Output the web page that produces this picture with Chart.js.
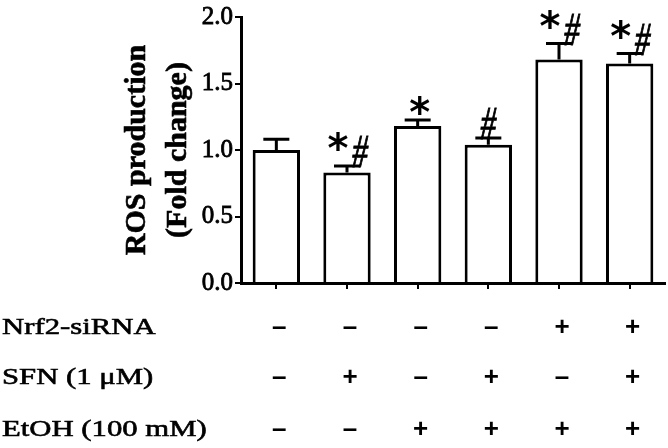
<!DOCTYPE html>
<html>
<head>
<meta charset="utf-8">
<script src="https://cdn.jsdelivr.net/npm/chart.js@4"></script>
<style>
  html, body { margin: 0; padding: 0; background: #fff; }
  #wrap { width: 668px; height: 448px; position: relative; }
</style>
</head>
<body>
<div id="wrap"><canvas id="rosChart"></canvas></div>
<script>
  // data
  const groups    = ['G1', 'G2', 'G3', 'G4', 'G5', 'G6'];
  const rosMean   = [1.00, 0.83, 1.18, 1.04, 1.68, 1.65];
  const rosSem    = [0.08, 0.05, 0.045, 0.05, 0.12, 0.075];
  const sigMarks  = ['', '*#', '*', '#', '*#', '*#'];
  const yTicks    = [0, 0.5, 1.0, 1.5, 2.0];
  const rowLabels = ['Nrf2-siRNA', 'SFN (1 \u03BCM)', 'EtOH (100 mM)'];
  const nrf2      = [false, false, false, false, true, true];
  const sfn       = [false, true, false, true, false, true];
  const etoh      = [false, false, true, true, true, true];

  const serif = "'Liberation Serif', 'Times New Roman', serif";
  const sans  = "'Liberation Sans', Arial, sans-serif";

  function drawStar(ctx, cx, base) {
    ctx.font = "bold 40px 'DejaVu Sans', sans-serif";
    ctx.textAlign = 'center';
    ctx.fillText('*', cx, base);
  }

  function drawHash(ctx, cx, base) {
    ctx.save();
    ctx.translate(cx, base);
    ctx.scale(0.68, 1);
    ctx.font = 'italic 46px ' + serif;
    ctx.textAlign = 'center';
    ctx.lineWidth = 1;
    ctx.fillText('#', 0, 0);
    ctx.strokeText('#', 0, 0);
    ctx.restore();
  }

  const errorBars = {
    id: 'errorBars',
    afterDatasetsDraw(chart) {
      const ctx = chart.ctx;
      const y = chart.scales.y;
      const meta = chart.getDatasetMeta(0);
      ctx.save();
      ctx.strokeStyle = '#000';
      ctx.fillStyle = '#000';
      ctx.textBaseline = 'alphabetic';
      meta.data.forEach((bar, i) => {
        const top = y.getPixelForValue(rosMean[i] + rosSem[i]);
        ctx.lineWidth = 3;
        ctx.beginPath();
        ctx.moveTo(bar.x, bar.y);
        ctx.lineTo(bar.x, top);
        ctx.moveTo(bar.x - 13, top);
        ctx.lineTo(bar.x + 13, top);
        ctx.stroke();

        // significance marks
        const mark = sigMarks[i];
        const base = top + 1;
        if (mark === '*#') {
          drawStar(ctx, bar.x - 9, top - 4);
          drawHash(ctx, bar.x + 13, base);
        } else if (mark === '*') {
          drawStar(ctx, bar.x + 2, top + 6);
        } else if (mark === '#') {
          drawHash(ctx, bar.x, base);
        }
      });
      ctx.restore();
    }
  };

  const sideText = {
    id: 'sideText',
    afterDraw(chart) {
      const ctx = chart.ctx;
      const area = chart.chartArea;
      const xs = chart.scales.x;
      ctx.save();
      ctx.fillStyle = '#000';
      ctx.strokeStyle = '#000';

      // y axis title, two lines
      const cy = (area.top + area.bottom) / 2;
      ctx.translate(137, cy);
      ctx.rotate(-Math.PI / 2);
      ctx.font = 'bold 30px ' + serif;
      ctx.textAlign = 'center';
      ctx.textBaseline = 'middle';
      ctx.lineWidth = 0.6;
      ctx.fillText('ROS production', 0, 0);
      ctx.strokeText('ROS production', 0, 0);
      ctx.fillText('(Fold change)', 0, 41);
      ctx.strokeText('(Fold change)', 0, 41);
      ctx.setTransform(1, 0, 0, 1, 0, 0);

      // treatment table
      const rowY = [328, 378, 430];
      const rows = [nrf2, sfn, etoh];
      rows.forEach((row, r) => {
        ctx.save();
        ctx.translate(2, rowY[r]);
        ctx.scale(1.28, 1);
        ctx.font = '24px ' + serif;
        ctx.textAlign = 'left';
        ctx.textBaseline = 'middle';
        ctx.lineWidth = 0.6;
        ctx.fillText(rowLabels[r], 0, 0);
        ctx.strokeText(rowLabels[r], 0, 0);
        ctx.restore();

        ctx.font = 'bold 26px ' + sans;
        ctx.textAlign = 'center';
        ctx.textBaseline = 'middle';
        row.forEach((on, i) => {
          ctx.fillText(on ? '+' : '\u2013', xs.getPixelForValue(i) + 3, rowY[r]);
        });
      });
      ctx.restore();
    }
  };

  new Chart(document.getElementById('rosChart'), {
    type: 'bar',
    data: {
      labels: groups,
      datasets: [{
        data: rosMean,
        backgroundColor: '#fff',
        borderColor: '#000',
        borderWidth: 3,
        barPercentage: 0.67,
        categoryPercentage: 1.0
      }]
    },
    options: {
      responsive: true,
      maintainAspectRatio: false,
      animation: false,
      layout: { padding: { top: 12, right: 3, bottom: 159, left: 0 } },
      plugins: { legend: { display: false }, tooltip: { enabled: false } },
      scales: {
        x: {
          ticks: { display: false },
          grid: { display: true, drawOnChartArea: false, offset: false, tickLength: 6, color: '#000', lineWidth: 2 },
          border: { display: true, color: '#000', width: 3 },
          afterFit: s => { s.height = 6; }
        },
        y: {
          min: 0,
          max: 2,
          afterBuildTicks: s => { s.ticks = yTicks.map(v => ({ value: v })); },
          ticks: {
            color: '#000',
            padding: 2,
            textStrokeColor: '#000',
            textStrokeWidth: 0.8,
            font: { family: serif, size: 25 },
            callback: v => Number(v).toFixed(1)
          },
          grid: { drawOnChartArea: false, tickLength: 6, color: '#000', lineWidth: 2 },
          border: { display: true, color: '#000', width: 3 },
          afterFit: s => { s.width = 241; }
        }
      }
    },
    plugins: [errorBars, sideText]
  });
</script>
</body>
</html>
